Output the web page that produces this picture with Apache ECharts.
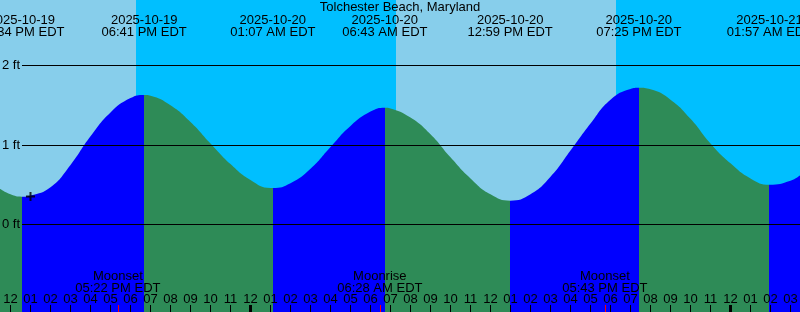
<!DOCTYPE html>
<html><head><meta charset="utf-8">
<script src="https://cdn.jsdelivr.net/npm/echarts@6/dist/echarts.min.js"></script>
<style>html,body{margin:0;padding:0;background:#87CEEB}#c{width:800px;height:312px}</style>
</head><body><div id="c"></div>
<script>
// All times are hours since 2025-10-19 12:00 PM EDT
const chartTitle = 'Tolchester Beach, Maryland';
const readingHours = [-0.525, 0, 1, 2, 3, 4, 5, 6, 7, 8, 9, 10, 11, 12, 13, 14, 15, 16, 17, 18, 19,
  20, 21, 22, 23, 24, 26, 27, 28, 29, 30, 31, 32, 33, 34, 35, 36, 37, 39, 39.475];
const readingFeet = [0.45, 0.38, 0.365, 0.47, 0.75, 1.11, 1.41, 1.59, 1.62, 1.50, 1.29, 1.02, 0.76, 0.56, 0.46, 0.52, 0.70, 0.975, 1.24, 1.42, 1.46,
  1.345, 1.135, 0.845, 0.58, 0.38, 0.38, 0.60, 0.93, 1.27, 1.57, 1.705, 1.70, 1.57, 1.33, 1.02, 0.77, 0.58, 0.55, 0.62];
const extremeHours = [0.5667, 6.6833, 13.1167, 18.7167, 24.9833, 31.4167, 37.95];
const extremeFeet = [0.35, 1.63, 0.46, 1.47, 0.30, 1.72, 0.50];
const extremeDates = ['2025-10-19', '2025-10-19', '2025-10-20', '2025-10-20', '2025-10-20', '2025-10-20', '2025-10-21'];
const extremeClock = ['12:34 PM EDT', '06:41 PM EDT', '01:07 AM EDT', '06:43 AM EDT', '12:59 PM EDT', '07:25 PM EDT', '01:57 AM EDT'];
const moonHours = [5.3667, 18.4667, 29.7167];
const moonNames = ['Moonset', 'Moonrise', 'Moonset'];
const moonClock = ['05:22 PM EDT', '06:28 AM EDT', '05:43 PM EDT'];
const sunHours = [6.275, 19.275, 30.275];   // sunset, sunrise, sunset
const hourTicks = [0, 1, 2, 3, 4, 5, 6, 7, 8, 9, 10, 11, 12, 13, 14, 15, 16, 17, 18, 19,
  20, 21, 22, 23, 24, 25, 26, 27, 28, 29, 30, 31, 32, 33, 34, 35, 36, 37, 38, 39];
const hourLabels = ['12', '01', '02', '03', '04', '05', '06', '07', '08', '09', '10', '11',
  '12', '01', '02', '03', '04', '05', '06', '07', '08', '09', '10', '11',
  '12', '01', '02', '03', '04', '05', '06', '07', '08', '09', '10', '11',
  '12', '01', '02', '03'];
const midnightHours = [12, 36];
const nowHour = 1.0, nowFeet = 0.352;

const xMin = -0.525, xMax = 39.475;
const yMin = -1.1006, yMax = 2.8239;
const FONT = "'Liberation Sans', Arial, sans-serif";
const DAY = '#87CEEB', NIGHT = '#00BFFF', RISE = '#0000FF', FALL = '#2E8B57';

const pts = readingHours.map((h, i) => [h, readingFeet[i]])
  .concat(extremeHours.map((h, i) => [h, extremeFeet[i]]))
  .sort((a, b) => a[0] - b[0]);

const bandEdges = [xMin].concat(sunHours, [xMax]);
const bands = [];
for (let i = 0; i < bandEdges.length - 1; i++) bands.push([bandEdges[i], bandEdges[i + 1], i % 2]);

const pieces = [];
const edges = [-100].concat(extremeHours, [100]);
for (let i = 0; i < edges.length - 1; i++) {
  let rising;
  if (i < extremeHours.length) rising = i === 0 ? extremeFeet[0] > extremeFeet[1] : extremeFeet[i] > extremeFeet[i - 1];
  else rising = extremeFeet[i - 1] < extremeFeet[i - 2];
  pieces.push({ gte: edges[i], lt: edges[i + 1], color: rising ? RISE : FALL });
}

function findIdx(arr, v) {
  let best = 0;
  for (let i = 1; i < arr.length; i++) if (Math.abs(arr[i] - v) < Math.abs(arr[best] - v)) best = i;
  return best;
}

const hiddenLine = { show: false, onZero: false };

const chart = echarts.init(document.getElementById('c'), null, { renderer: 'canvas' });
chart.setOption({
  animation: false,
  backgroundColor: DAY,
  textStyle: { fontFamily: FONT },
  title: {
    text: chartTitle, left: 'center', top: 1, padding: 0,
    textStyle: { fontSize: 13, fontWeight: 'normal', color: '#000', fontFamily: FONT, lineHeight: 12 }
  },
  grid: [
    { left: 0, right: 0, top: 0, bottom: 0, containLabel: false, outerBoundsMode: 'none' },
    { left: 22, right: 0, top: 65.5, bottom: 87.5, containLabel: false, outerBoundsMode: 'none' }
  ],
  xAxis: [
    {
      gridIndex: 0, type: 'value', min: xMin, max: xMax, position: 'bottom', z: 10,
      axisLine: hiddenLine, splitLine: { show: false },
      axisTick: { show: true, inside: true, length: 7, customValues: hourTicks, lineStyle: { color: '#000', width: 1 } },
      axisLabel: {
        show: true, inside: true, customValues: hourTicks, margin: 7, fontSize: 13, color: '#000', fontFamily: FONT, lineHeight: 12,
        formatter: v => hourLabels[findIdx(hourTicks, v)]
      }
    },
    {
      gridIndex: 0, type: 'value', min: xMin, max: xMax, position: 'bottom', z: 11,
      axisLine: hiddenLine, splitLine: { show: false },
      axisTick: { show: true, inside: true, length: 7, customValues: midnightHours, lineStyle: { color: '#000', width: 3 } },
      axisLabel: { show: false }
    },
    {
      gridIndex: 0, type: 'value', min: xMin, max: xMax, position: 'bottom', z: 12,
      axisLine: hiddenLine, splitLine: { show: false },
      axisTick: { show: true, inside: true, length: 7, customValues: moonHours, lineStyle: { color: '#FF0000', width: 1 } },
      axisLabel: {
        show: true, inside: true, customValues: moonHours, margin: 18, fontSize: 13, color: '#000', fontFamily: FONT, lineHeight: 12,
        formatter: v => { const i = findIdx(moonHours, v); return moonNames[i] + '\n' + moonClock[i]; }
      }
    },
    {
      gridIndex: 0, type: 'value', min: xMin, max: xMax, position: 'top', z: 12,
      axisLine: hiddenLine, splitLine: { show: false }, axisTick: { show: false },
      axisLabel: {
        show: true, inside: true, customValues: extremeHours, margin: 14.5, fontSize: 13, color: '#000', fontFamily: FONT, lineHeight: 12,
        formatter: v => { const i = findIdx(extremeHours, v); return extremeDates[i] + '\n' + extremeClock[i]; }
      }
    },
    { gridIndex: 1, type: 'value', min: 0, max: 1, show: false, axisLine: hiddenLine }
  ],
  yAxis: [
    { gridIndex: 0, type: 'value', min: yMin, max: yMax, show: false, axisLine: hiddenLine },
    {
      gridIndex: 1, type: 'value', min: 0, max: 2, interval: 1, z: 10,
      axisLine: hiddenLine, axisTick: { show: false },
      splitLine: { show: true, lineStyle: { color: '#000', width: 1 } },
      axisLabel: { show: true, margin: 2, fontSize: 13, color: '#000', fontFamily: FONT, formatter: '{value} ft' }
    }
  ],
  visualMap: {
    type: 'piecewise', show: false, dimension: 0, seriesIndex: 1, pieces: pieces
  },
  series: [
    {
      type: 'custom', xAxisIndex: 0, yAxisIndex: 0, z: 0, silent: true,
      data: bands,
      renderItem: (params, api) => {
        const x0 = api.coord([api.value(0), 0])[0];
        const x1 = api.coord([api.value(1), 0])[0];
        const cs = params.coordSys;
        return { type: 'rect', shape: { x: x0, y: cs.y, width: x1 - x0, height: cs.height },
          style: { fill: api.value(2) ? NIGHT : DAY } };
      }
    },
    {
      type: 'line', xAxisIndex: 0, yAxisIndex: 0, z: 2, silent: true,
      data: pts, smooth: 0.5, symbol: 'none',
      lineStyle: { width: 0 },
      areaStyle: { opacity: 1, origin: yMin }
    },
    {
      type: 'scatter', xAxisIndex: 0, yAxisIndex: 0, z: 5, silent: true,
      data: [[nowHour, nowFeet]],
      symbol: 'path://M3.5,0h2v3.5h3.5v2h-3.5v3.5h-2v-3.5h-3.5v-2h3.5z', symbolSize: 9,
      itemStyle: { color: '#000' }
    }
  ]
});
</script></body></html>
